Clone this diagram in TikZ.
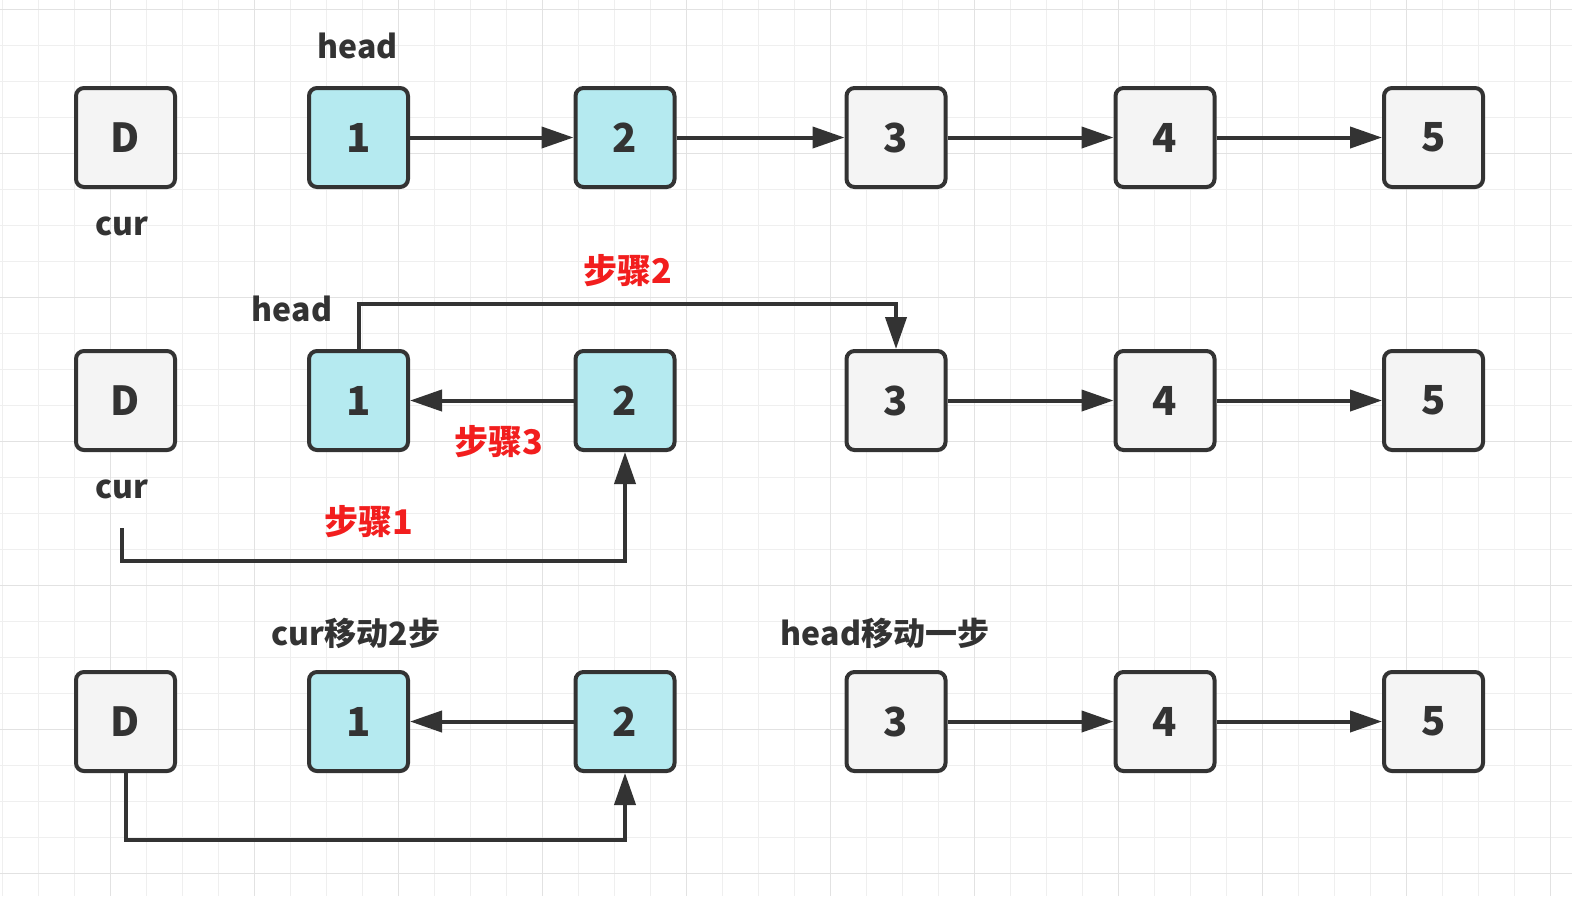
\documentclass[tikz,border=0pt]{standalone}
\usepackage{fontspec}
\setmainfont{Noto Sans CJK SC}
\usetikzlibrary{arrows.meta}
\definecolor{ink}{HTML}{333333}
\definecolor{paper}{HTML}{F4F4F4}
\definecolor{cyan}{HTML}{B5EAF0}
\definecolor{stepred}{HTML}{F21E1E}
\definecolor{minorline}{HTML}{EFEFEF}
\definecolor{majorline}{HTML}{E2E2E2}
\tikzset{
	box/.style = {draw=ink, line width=2pt, rounded corners=4pt, fill=paper, minimum size=49.5pt, inner sep=0pt, text=ink, font=\fontsize{20}{24}\selectfont\bfseries},
	hl/.style = {box, fill=cyan},
	lab/.style = {text=ink, font=\fontsize{16}{20}\selectfont\bfseries, inner sep=0pt},
	steplab/.style = {text=stepred, font=\fontsize{17}{20}\selectfont\bfseries, inner sep=0pt},
	arr/.style = {draw=ink, line width=2pt, -{Triangle[length=16pt,width=10.5pt]}}
}
\begin{document}
\begin{tikzpicture}[x=0.5pt, y=-0.5pt]
		\useasboundingbox[fill=white] (0,0) rectangle (1572,896);
		% grid
		\foreach \x in {2.5,38.5,...,1572} \draw[minorline, line width=0.5pt] (\x,0) -- (\x,896);
		\foreach \y in {9.5,45.5,...,896} \draw[minorline, line width=0.5pt] (0,\y) -- (1572,\y);
		\foreach \x in {110.5,254.5,...,1572} \draw[majorline, line width=0.6pt] (\x,0) -- (\x,896);
		\foreach \y in {9.5,153.5,...,896} \draw[majorline, line width=0.6pt] (0,\y) -- (1572,\y);
	
		% first row
		\node[box] (A0) at (125.5,137.5) {D};
		\node[hl] (A1) at (358.5,137.5) {1};
		\node[hl] (A2) at (625,137.5) {2};
		\node[box] (A3) at (896,137.5) {3};
		\node[box] (A4) at (1165,137.5) {4};
		\node[box] (A5) at (1433.5,137.5) {5};
		\node[lab] (headA) at (357.5,46) {head};
		\node[lab] (curA) at (122,226) {cur};
	
		\draw[arr] (A1) -- (A2);
		\draw[arr] (A2) -- (A3);
		\draw[arr] (A3) -- (A4);
		\draw[arr] (A4) -- (A5);
	
		% second row
		\node[box] (B0) at (125.5,400.5) {D};
		\node[hl] (B1) at (358.5,400.5) {1};
		\node[hl] (B2) at (625,400.5) {2};
		\node[box] (B3) at (896,400.5) {3};
		\node[box] (B4) at (1165,400.5) {4};
		\node[box] (B5) at (1433.5,400.5) {5};
		\node[lab] (headB) at (292,309) {head};
		\node[lab] (curB) at (122,489) {cur};
		\node[steplab] (s2) at (628,271) {步骤2};
		\node[steplab] (s3) at (499,442) {步骤3};
		\node[steplab] (s1) at (369,522) {步骤1};
	
		\coordinate (topB) at (625,304);
		\coordinate (curtail) at (122,528);
		\coordinate (lowB) at (122,561);
		\draw[arr] (B1.north) |- (topB) -| (B3.north);
		\draw[arr] (B2) -- (B1);
		\draw[arr] (curtail) -- (lowB) -| (B2.south);
		\draw[arr] (B3) -- (B4);
		\draw[arr] (B4) -- (B5);
	
		% third row
		\node[box] (C0) at (125.5,721.5) {D};
		\node[hl] (C1) at (358.5,721.5) {1};
		\node[hl] (C2) at (625,721.5) {2};
		\node[box] (C3) at (896,721.5) {3};
		\node[box] (C4) at (1165,721.5) {4};
		\node[box] (C5) at (1433.5,721.5) {5};
		\node[lab] (curC) at (356,633) {cur移动2步};
		\node[lab] (headC) at (885,633) {head移动一步};
	
		\coordinate (lowC) at (125.5,840);
		\draw[arr] (C2) -- (C1);
		\draw[arr] (C0.south) -- (lowC) -| (C2.south);
		\draw[arr] (C3) -- (C4);
		\draw[arr] (C4) -- (C5);
\end{tikzpicture}
\end{document}
